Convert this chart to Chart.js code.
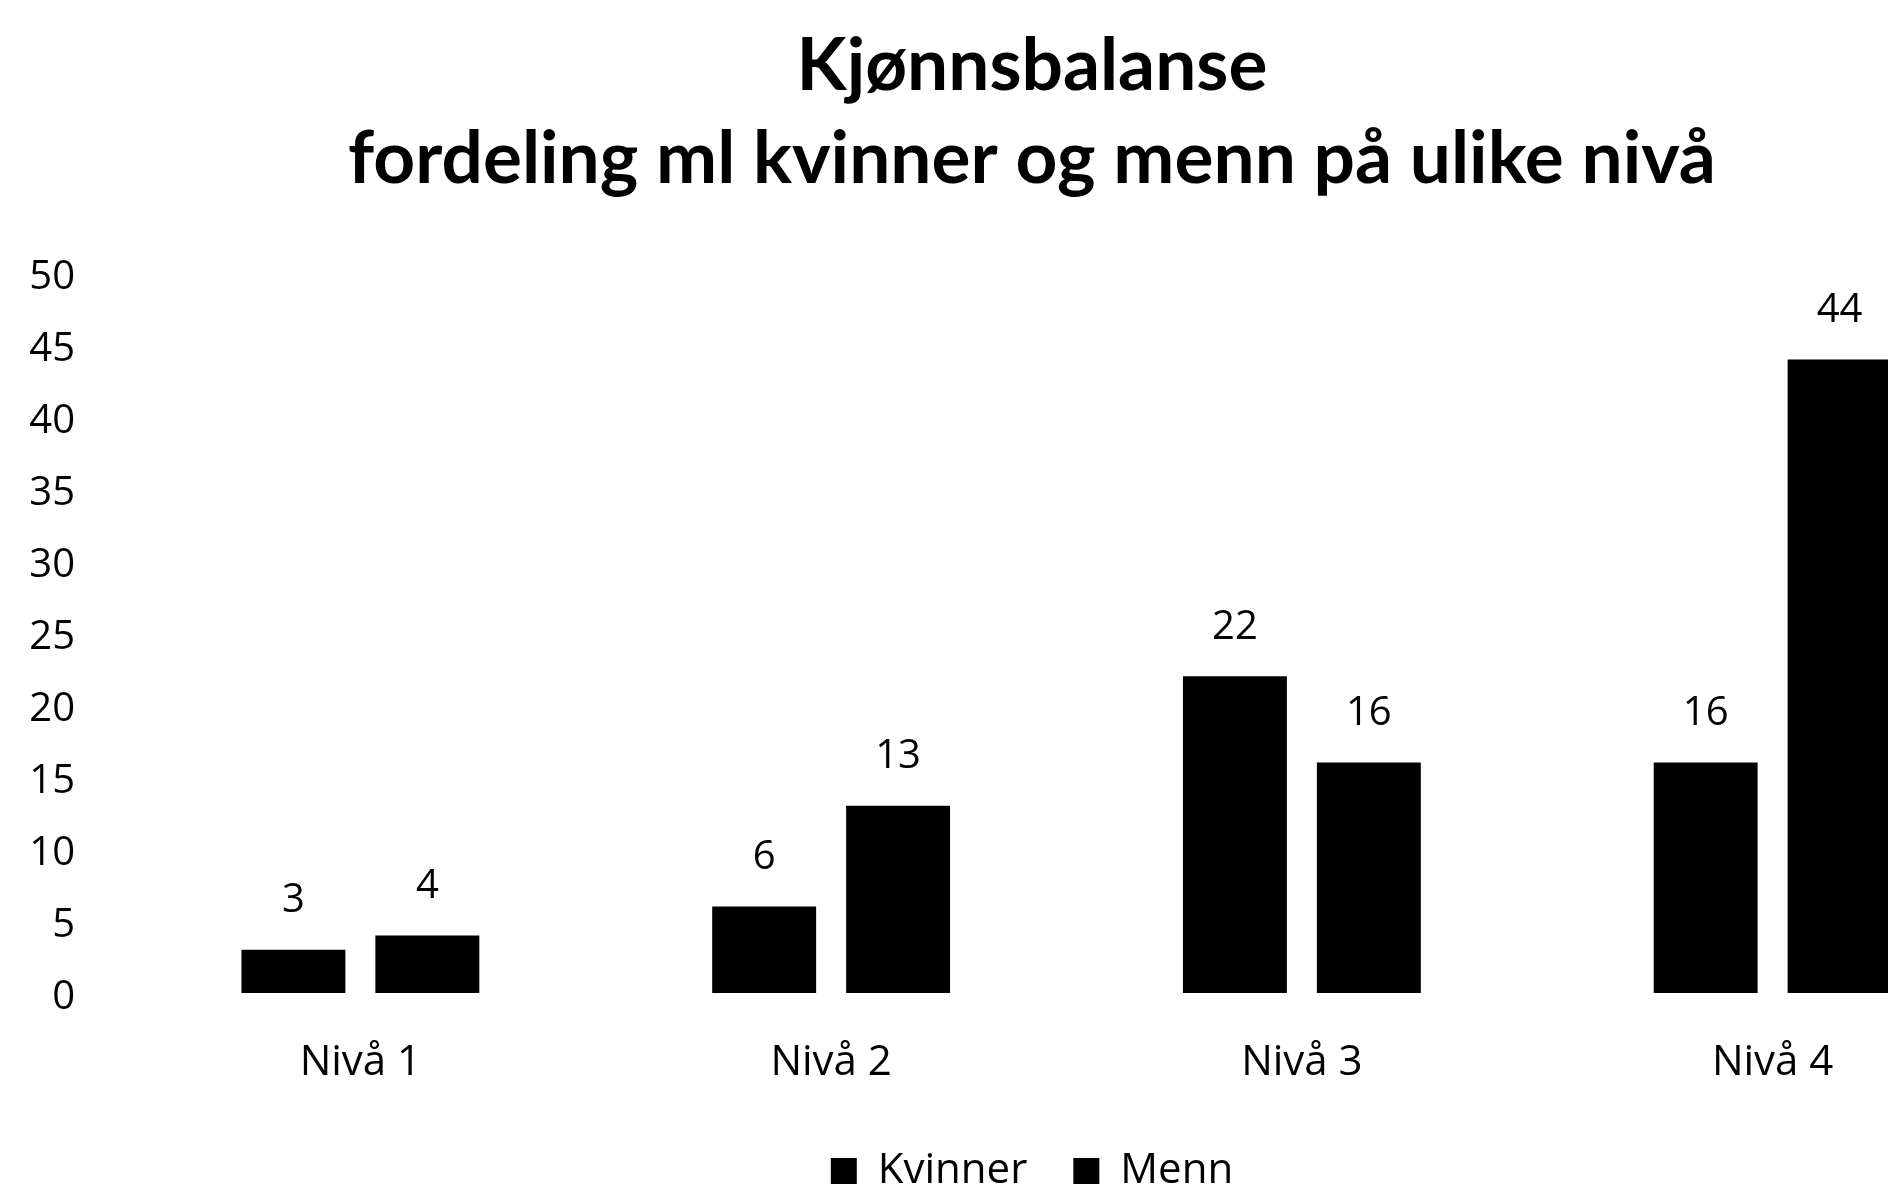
<!DOCTYPE html>
<html>
<head>
<meta charset="utf-8">
<title>Kjønnsbalanse</title>
<script src="https://cdn.jsdelivr.net/npm/chart.js@4.4.1/dist/chart.umd.min.js"></script>
<style>
  html, body { margin: 0; padding: 0; background: #fff; }
  /* the original chart is cut off on the right and bottom, so the canvas is bigger than the window */
  #wrap { width: 1888px; height: 1186px; overflow: hidden; }
  canvas { display: block; }
</style>
</head>
<body>
<div id="wrap"><canvas id="kjonnChart" width="2064" height="1202"></canvas></div>
<script>
const categories = ["Nivå 1", "Nivå 2", "Nivå 3", "Nivå 4"]
const kvinner = [3, 6, 22, 16]
const menn = [4, 13, 16, 44]
const seriesNames = ["Kvinner", "Menn"]
const titleLines = ["Kjønnsbalanse", "fordeling ml kvinner og menn på ulike nivå"]
const yMax = 50
const yStep = 5

const fontFamily = "'Open Sans', 'Noto Sans', sans-serif"
const textFont = { family: fontFamily, size: 40 }
const bigFont = { family: fontFamily, size: 42 }
const legendPadding = 46
const legendHeight = bigFont.size + legendPadding + 10
const plotBottom = 993

// valeurs au-dessus des barres
const valueLabels = {
  id: 'valueLabels',
  afterDatasetsDraw(chart) {
    const ctx = chart.ctx
    ctx.save()
    ctx.font = `${textFont.size}px ${textFont.family}`
    ctx.fillStyle = '#000'
    ctx.textAlign = 'center'
    ctx.textBaseline = 'middle'
    chart.data.datasets.forEach((ds, i) => {
      chart.getDatasetMeta(i).data.forEach((bar, j) => {
        ctx.fillText(String(ds.data[j]), bar.x, bar.y - 49)
      })
    })
    ctx.restore()
  }
}

const canvas = document.getElementById('kjonnChart')

new Chart(canvas.getContext('2d'), {
  type: 'bar',
  data: {
    labels: categories,
    datasets: [
      { label: seriesNames[0], data: kvinner, backgroundColor: '#000', borderWidth: 0 },
      { label: seriesNames[1], data: menn, backgroundColor: '#000', borderWidth: 0 }
    ]
  },
  options: {
    responsive: false,
    animation: false,
    events: [],
    categoryPercentage: 0.569,
    barPercentage: 0.776,
    layout: { padding: 0 },
    plugins: {
      title: {
        display: true,
        text: titleLines,
        color: '#000',
        font: { family: "Lato, 'Open Sans', sans-serif", weight: 'bold', size: 73, lineHeight: 1.274 },
        padding: { top: 20, bottom: 67 }
      },
      legend: {
        position: 'bottom',
        labels: {
          color: '#000',
          font: bigFont,
          boxWidth: 26,
          boxHeight: 26,
          padding: legendPadding
        }
      },
      tooltip: { enabled: false }
    },
    scales: {
      x: {
        grid: { display: false, drawTicks: false },
        border: { display: false },
        ticks: { color: '#000', font: bigFont, padding: 45, maxRotation: 0, autoSkip: false },
        afterFit: (s) => { s.height = canvas.height - legendHeight - plotBottom }
      },
      y: {
        min: 0,
        max: yMax,
        grid: { display: false, drawTicks: false },
        border: { display: false },
        ticks: { stepSize: yStep, color: '#000', font: textFont, padding: 50, labelOffset: 5 },
        afterFit: (s) => { s.width = 125 }
      },
      // axe vide à droite, juste pour garder la place
      yRight: {
        position: 'right',
        grid: { display: false, drawTicks: false },
        border: { display: false },
        ticks: { display: false },
        afterFit: (s) => { s.width = 56 }
      }
    }
  },
  plugins: [valueLabels]
})
</script>
</body>
</html>
